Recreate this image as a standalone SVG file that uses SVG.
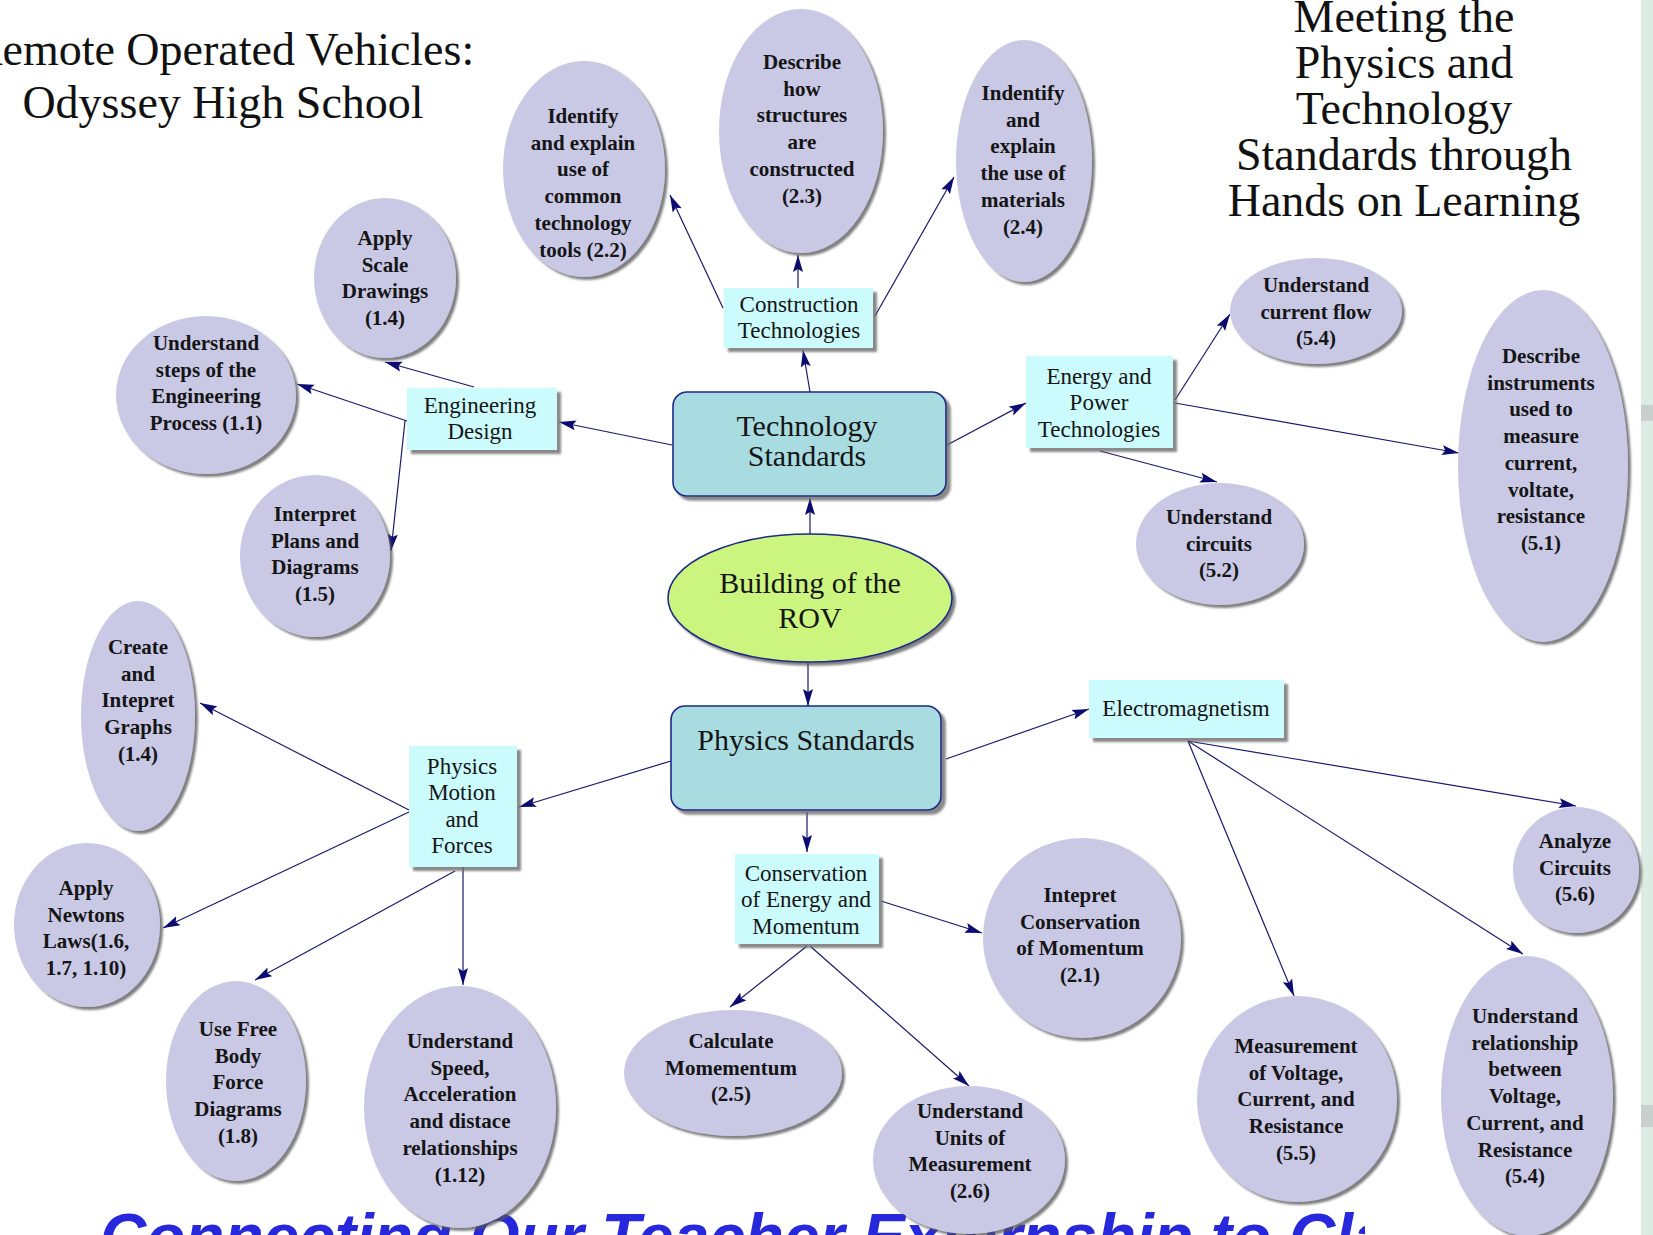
<svg xmlns="http://www.w3.org/2000/svg" width="1653" height="1235" viewBox="0 0 1653 1235">
<style>
.oval{fill:#c9c9e6;filter:url(#sh)}
.box{fill:#cbfbfd;filter:url(#shb)}
.rbox{fill:#a9dce1;stroke:#1c2a86;stroke-width:1.6;filter:url(#shb)}
.green{fill:#cbf57e;stroke:#1c2a86;stroke-width:1.6;filter:url(#sh)}
.t{font-family:"Liberation Serif","Times New Roman",serif;font-size:21px;font-weight:bold;text-anchor:middle;fill:#151515}
.b{font-family:"Liberation Serif","Times New Roman",serif;font-size:23px;text-anchor:middle;fill:#151515}
.big{font-family:"Liberation Serif","Times New Roman",serif;font-size:30px;text-anchor:middle;fill:#151515}
.title{font-family:"Liberation Serif","Times New Roman",serif;font-size:46px;text-anchor:middle;fill:#111}
.foot{font-family:"Liberation Sans",Arial,sans-serif;font-size:64px;font-weight:bold;font-style:italic;fill:#2727dc}
#connectors line{stroke:#1a1a6a;stroke-width:1.2;marker-end:url(#arr)}
</style>
<defs>
<marker id="arr" markerUnits="userSpaceOnUse" markerWidth="18" markerHeight="11" refX="17" refY="5.5" orient="auto">
<path d="M0,0.5 L17,5.5 L0,10.5 L3,5.5 z" fill="#0b0b72"/>
</marker>
<filter id="sh" x="-10%" y="-10%" width="125%" height="125%">
<feDropShadow dx="3" dy="3" stdDeviation="1.2" flood-color="#555" flood-opacity="0.75"/>
</filter>
<filter id="shb" x="-10%" y="-10%" width="125%" height="130%">
<feDropShadow dx="4" dy="4" stdDeviation="1" flood-color="#6a6a6a" flood-opacity="0.8"/>
</filter>
<clipPath id="footclip"><rect x="0" y="1100" width="1365" height="135"/></clipPath>
</defs>
<rect x="0" y="0" width="1653" height="1235" fill="#ffffff"/>
<rect x="1641" y="0" width="12" height="1235" fill="#dcebe3"/>
<rect x="1641" y="405" width="12" height="16" fill="#c9cfcc"/>
<rect x="1641" y="1105" width="12" height="22" fill="#c9cfcc"/>

<text class="foot" x="100" y="1259" clip-path="url(#footclip)">Connecting Our Teacher Externship to Classroom</text>

<g id="titles">
<text class="title" x="223" y="65">Remote Operated Vehicles:</text>
<text class="title" x="223" y="118">Odyssey High School</text>
<text class="title" x="1404" y="32"><tspan x="1404">Meeting the</tspan><tspan x="1404" dy="46">Physics and</tspan><tspan x="1404" dy="46">Technology</tspan><tspan x="1404" dy="46">Standards through</tspan><tspan x="1404" dy="46">Hands on Learning</tspan></text>
</g>

<g id="connectors">
<line x1="810" y1="392" x2="803" y2="350"/>
<line x1="723" y1="308" x2="670" y2="195"/>
<line x1="798" y1="288" x2="798" y2="255"/>
<line x1="875" y1="316" x2="954" y2="177"/>
<line x1="672" y1="445" x2="559" y2="422"/>
<line x1="474" y1="387" x2="385" y2="362"/>
<line x1="407" y1="421" x2="297" y2="384"/>
<line x1="405" y1="421" x2="391" y2="551"/>
<line x1="947" y1="445" x2="1026" y2="403"/>
<line x1="1175" y1="400" x2="1230" y2="314"/>
<line x1="1175" y1="403" x2="1459" y2="453"/>
<line x1="1100" y1="451" x2="1217" y2="482"/>
<line x1="810" y1="534" x2="810" y2="498"/>
<line x1="808" y1="662" x2="808" y2="706"/>
<line x1="671" y1="761" x2="519" y2="807"/>
<line x1="946" y1="759" x2="1089" y2="709"/>
<line x1="807" y1="812" x2="807" y2="852"/>
<line x1="409" y1="810" x2="200" y2="703"/>
<line x1="409" y1="812" x2="163" y2="928"/>
<line x1="455" y1="871" x2="255" y2="980"/>
<line x1="463" y1="867" x2="463" y2="985"/>
<line x1="881" y1="901" x2="982" y2="933"/>
<line x1="807" y1="946" x2="730" y2="1007"/>
<line x1="810" y1="946" x2="969" y2="1086"/>
<line x1="1188" y1="741" x2="1576" y2="806"/>
<line x1="1188" y1="741" x2="1294" y2="996"/>
<line x1="1188" y1="741" x2="1523" y2="954"/>
</g>

<g id="n-tools">
<ellipse class="oval" cx="584" cy="169" rx="81" ry="108"/>
<text class="t" x="583" y="123"><tspan x="583">Identify</tspan><tspan x="583" dy="26.7">and explain</tspan><tspan x="583" dy="26.7">use of</tspan><tspan x="583" dy="26.7">common</tspan><tspan x="583" dy="26.7">technology</tspan><tspan x="583" dy="26.7">tools (2.2)</tspan></text>
</g>
<g id="n-structures">
<ellipse class="oval" cx="801" cy="131" rx="82" ry="122"/>
<text class="t" x="802" y="69"><tspan x="802">Describe</tspan><tspan x="802" dy="26.7">how</tspan><tspan x="802" dy="26.7">structures</tspan><tspan x="802" dy="26.7">are</tspan><tspan x="802" dy="26.7">constructed</tspan><tspan x="802" dy="26.7">(2.3)</tspan></text>
</g>
<g id="n-materials">
<ellipse class="oval" cx="1024" cy="161" rx="68" ry="121"/>
<text class="t" x="1023" y="100"><tspan x="1023">Indentify</tspan><tspan x="1023" dy="26.7">and</tspan><tspan x="1023" dy="26.7">explain</tspan><tspan x="1023" dy="26.7">the use of</tspan><tspan x="1023" dy="26.7">materials</tspan><tspan x="1023" dy="26.7">(2.4)</tspan></text>
</g>
<g id="n-scale">
<ellipse class="oval" cx="385" cy="278" rx="71" ry="80"/>
<text class="t" x="385" y="245"><tspan x="385">Apply</tspan><tspan x="385" dy="26.7">Scale</tspan><tspan x="385" dy="26.7">Drawings</tspan><tspan x="385" dy="26.7">(1.4)</tspan></text>
</g>
<g id="n-steps">
<ellipse class="oval" cx="206" cy="395" rx="90" ry="79"/>
<text class="t" x="206" y="350"><tspan x="206">Understand</tspan><tspan x="206" dy="26.7">steps of the</tspan><tspan x="206" dy="26.7">Engineering</tspan><tspan x="206" dy="26.7">Process (1.1)</tspan></text>
</g>
<g id="n-plans">
<ellipse class="oval" cx="315" cy="556" rx="75" ry="81"/>
<text class="t" x="315" y="521"><tspan x="315">Interpret</tspan><tspan x="315" dy="26.7">Plans and</tspan><tspan x="315" dy="26.7">Diagrams</tspan><tspan x="315" dy="26.7">(1.5)</tspan></text>
</g>
<g id="n-construction">
<rect class="box" x="724" y="288" width="149" height="60"/>
<text class="b" x="799" y="312"><tspan x="799">Construction</tspan><tspan x="799" dy="26.4">Technologies</tspan></text>
</g>
<g id="n-engineering">
<rect class="box" x="407" y="388" width="150" height="62"/>
<text class="b" x="480" y="413"><tspan x="480">Engineering</tspan><tspan x="480" dy="26.4">Design</tspan></text>
</g>
<g id="n-tech">
<rect class="rbox" x="673" y="392" width="273" height="104" rx="14"/>
<text class="big" x="807" y="436"><tspan x="807">Technology</tspan><tspan x="807" dy="30">Standards</tspan></text>
</g>
<g id="n-energy">
<rect class="box" x="1026" y="356" width="147" height="92"/>
<text class="b" x="1099" y="384"><tspan x="1099">Energy and</tspan><tspan x="1099" dy="26.4">Power</tspan><tspan x="1099" dy="26.4">Technologies</tspan></text>
</g>
<g id="n-current">
<ellipse class="oval" cx="1316" cy="311" rx="86" ry="53"/>
<text class="t" x="1316" y="292"><tspan x="1316">Understand</tspan><tspan x="1316" dy="26.7">current flow</tspan><tspan x="1316" dy="26.7">(5.4)</tspan></text>
</g>
<g id="n-instruments">
<ellipse class="oval" cx="1543" cy="466" rx="85" ry="176"/>
<text class="t" x="1541" y="363"><tspan x="1541">Describe</tspan><tspan x="1541" dy="26.7">instruments</tspan><tspan x="1541" dy="26.7">used to</tspan><tspan x="1541" dy="26.7">measure</tspan><tspan x="1541" dy="26.7">current,</tspan><tspan x="1541" dy="26.7">voltate,</tspan><tspan x="1541" dy="26.7">resistance</tspan><tspan x="1541" dy="26.7">(5.1)</tspan></text>
</g>
<g id="n-circuits">
<ellipse class="oval" cx="1220" cy="544" rx="84" ry="61"/>
<text class="t" x="1219" y="524"><tspan x="1219">Understand</tspan><tspan x="1219" dy="26.7">circuits</tspan><tspan x="1219" dy="26.7">(5.2)</tspan></text>
</g>
<g id="n-rov">
<ellipse class="green" cx="810" cy="598" rx="142" ry="64"/>
<text class="big" x="810" y="593"><tspan x="810">Building of the</tspan><tspan x="810" dy="35">ROV</tspan></text>
</g>
<g id="n-physics">
<rect class="rbox" x="671" y="706" width="270" height="104" rx="14"/>
<text class="big" x="806" y="750">Physics Standards</text>
</g>
<g id="n-em">
<rect class="box" x="1089" y="680" width="195" height="58"/>
<text class="b" x="1186" y="716">Electromagnetism</text>
</g>
<g id="n-motion">
<rect class="box" x="409" y="746" width="108" height="121"/>
<text class="b" x="462" y="774"><tspan x="462">Physics</tspan><tspan x="462" dy="26.4">Motion</tspan><tspan x="462" dy="26.4">and</tspan><tspan x="462" dy="26.4">Forces</tspan></text>
</g>
<g id="n-conservation">
<rect class="box" x="735" y="854" width="144" height="90"/>
<text class="b" x="806" y="881"><tspan x="806">Conservation</tspan><tspan x="806" dy="26.4">of Energy and</tspan><tspan x="806" dy="26.4">Momentum</tspan></text>
</g>
<g id="n-graphs">
<ellipse class="oval" cx="138" cy="716" rx="57" ry="115"/>
<text class="t" x="138" y="654"><tspan x="138">Create</tspan><tspan x="138" dy="26.7">and</tspan><tspan x="138" dy="26.7">Intepret</tspan><tspan x="138" dy="26.7">Graphs</tspan><tspan x="138" dy="26.7">(1.4)</tspan></text>
</g>
<g id="n-newtons">
<ellipse class="oval" cx="87" cy="925" rx="73" ry="82"/>
<text class="t" x="86" y="895"><tspan x="86">Apply</tspan><tspan x="86" dy="26.7">Newtons</tspan><tspan x="86" dy="26.7">Laws(1.6,</tspan><tspan x="86" dy="26.7">1.7, 1.10)</tspan></text>
</g>
<g id="n-freebody">
<ellipse class="oval" cx="236" cy="1081" rx="70" ry="100"/>
<text class="t" x="238" y="1036"><tspan x="238">Use Free</tspan><tspan x="238" dy="26.7">Body</tspan><tspan x="238" dy="26.7">Force</tspan><tspan x="238" dy="26.7">Diagrams</tspan><tspan x="238" dy="26.7">(1.8)</tspan></text>
</g>
<g id="n-speed">
<ellipse class="oval" cx="460" cy="1107" rx="96" ry="121"/>
<text class="t" x="460" y="1048"><tspan x="460">Understand</tspan><tspan x="460" dy="26.7">Speed,</tspan><tspan x="460" dy="26.7">Acceleration</tspan><tspan x="460" dy="26.7">and distace</tspan><tspan x="460" dy="26.7">relationships</tspan><tspan x="460" dy="26.7">(1.12)</tspan></text>
</g>
<g id="n-calculate">
<ellipse class="oval" cx="733" cy="1073" rx="109" ry="63"/>
<text class="t" x="731" y="1048"><tspan x="731">Calculate</tspan><tspan x="731" dy="26.7">Momementum</tspan><tspan x="731" dy="26.7">(2.5)</tspan></text>
</g>
<g id="n-units">
<ellipse class="oval" cx="969" cy="1160" rx="96" ry="74"/>
<text class="t" x="970" y="1118"><tspan x="970">Understand</tspan><tspan x="970" dy="26.7">Units of</tspan><tspan x="970" dy="26.7">Measurement</tspan><tspan x="970" dy="26.7">(2.6)</tspan></text>
</g>
<g id="n-interpret-cons">
<ellipse class="oval" cx="1082" cy="938" rx="99" ry="100"/>
<text class="t" x="1080" y="902"><tspan x="1080">Intepret</tspan><tspan x="1080" dy="26.7">Conservation</tspan><tspan x="1080" dy="26.7">of Momentum</tspan><tspan x="1080" dy="26.7">(2.1)</tspan></text>
</g>
<g id="n-analyze">
<ellipse class="oval" cx="1576" cy="870" rx="63" ry="63"/>
<text class="t" x="1575" y="848"><tspan x="1575">Analyze</tspan><tspan x="1575" dy="26.7">Circuits</tspan><tspan x="1575" dy="26.7">(5.6)</tspan></text>
</g>
<g id="n-measurement">
<ellipse class="oval" cx="1297" cy="1099" rx="100" ry="103"/>
<text class="t" x="1296" y="1053"><tspan x="1296">Measurement</tspan><tspan x="1296" dy="26.7">of Voltage,</tspan><tspan x="1296" dy="26.7">Current, and</tspan><tspan x="1296" dy="26.7">Resistance</tspan><tspan x="1296" dy="26.7">(5.5)</tspan></text>
</g>
<g id="n-relationship">
<ellipse class="oval" cx="1527" cy="1096" rx="86" ry="140"/>
<text class="t" x="1525" y="1023"><tspan x="1525">Understand</tspan><tspan x="1525" dy="26.7">relationship</tspan><tspan x="1525" dy="26.7">between</tspan><tspan x="1525" dy="26.7">Voltage,</tspan><tspan x="1525" dy="26.7">Current, and</tspan><tspan x="1525" dy="26.7">Resistance</tspan><tspan x="1525" dy="26.7">(5.4)</tspan></text>
</g>
</svg>
